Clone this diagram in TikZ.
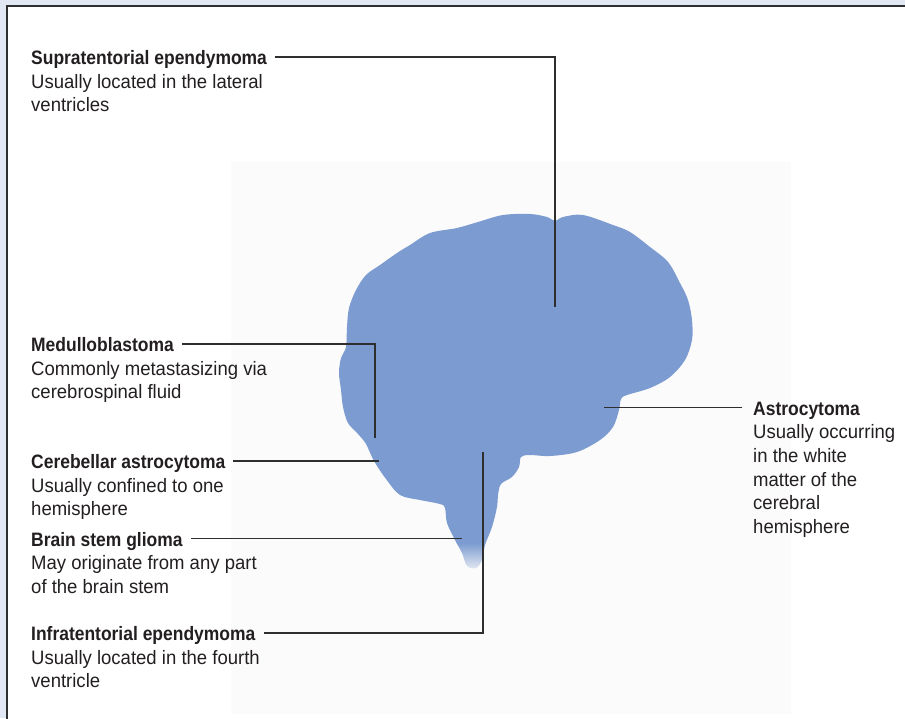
\documentclass[tikz,border=0pt]{standalone}
\usepackage{fontspec}
\setmainfont{Liberation Sans}[FakeStretch=0.955, BoldFeatures={FakeStretch=0.9}]
\usetikzlibrary{fadings}

\definecolor{pagebg}{HTML}{E2E8F3}
\definecolor{panelgrey}{HTML}{FBFBFB}
\definecolor{brainblue}{HTML}{7C9BD1}
\definecolor{ink}{HTML}{231F20}
\definecolor{rulecol}{HTML}{2E2E2E}

\begin{document}
\begin{tikzpicture}[x=1pt,y=-1pt,
  title/.style={font=\fontsize{19.4}{23.7}\selectfont\bfseries, text=ink,
    inner sep=0pt, anchor=base west},
  desc/.style={font=\fontsize{19.4}{23.7}\selectfont, text=ink,
    inner sep=0pt, align=left, anchor=base west},
  leader/.style={draw=rulecol, line width=1.2pt},
  frame/.style={draw=rulecol, line width=1.6pt}]

\useasboundingbox (0,0) rectangle (905,718);
\clip (0,0) rectangle (905,718);

% page and panel
\fill[pagebg] (0,0) rectangle (905,718);
\fill[white] (7,6) rectangle (930,740);
\draw[frame] (7,740) -- (7,6) -- (930,6);
\fill[panelgrey] (231,162) rectangle (791,714);

% brain silhouette
\fill[brainblue] plot[smooth cycle, tension=0.55] coordinates {
  (503,215) (530,214) (547,217) (555,221) (563,217) (583,215)
  (613,225) (630,232) (650,247) (668,262) (680,283) (688,300)
  (692,320) (692,340) (685,360) (670,377) (650,388) (627,395)
  (621,399) (619,410) (613,427) (600,440) (577,452) (550,456)
  (530,455) (521,457) (519,467) (512,477) (501,484) (498,495)
  (497,507) (492,527) (485,545) (482,560) (476,568) (467,566)
  (462,553) (455,540) (447,523) (445,508) (440,504) (420,500)
  (400,495) (386,479) (374,461) (366,444) (358,434) (348,423)
  (343,407) (341,390) (339,373) (341,358) (346,347) (347,327)
  (349,308) (356,290) (366,275) (380,265) (397,253) (410,245)
  (430,233) (457,228) (478,222)};

% stem fading out at the bottom
\fill[panelgrey, path fading=north] (430,543) rectangle (510,575);

% labels: titles, then descriptions placed by the baseline of their last line
\node[title] (t1) at (31,64.5) {Supratentorial ependymoma};
\node[desc] (d1) at ([yshift=-47.4pt]t1.base west) {Usually located in the lateral\\ventricles};

\node[title] (t2) at (31,351.5) {Medulloblastoma};
\node[desc] (d2) at ([yshift=-47.4pt]t2.base west) {Commonly metastasizing via\\cerebrospinal fluid};

\node[title] (t3) at (31,468.5) {Cerebellar astrocytoma};
\node[desc] (d3) at ([yshift=-47.4pt]t3.base west) {Usually confined to one\\hemisphere};

\node[title] (t4) at (31,546) {Brain stem glioma};
\node[desc] (d4) at ([yshift=-47.4pt]t4.base west) {May originate from any part\\of the brain stem};

\node[title] (t5) at (31,640.5) {Infratentorial ependymoma};
\node[desc] (d5) at ([yshift=-47.4pt]t5.base west) {Usually located in the fourth\\ventricle};

\node[title] (t6) at (753,415) {Astrocytoma};
\node[desc] (d6) at ([yshift=-118.5pt]t6.base west) {Usually occurring\\in the white\\matter of the\\cerebral\\hemisphere};

% leader end points
\coordinate (e1) at (555,307);
\coordinate (e2) at (375,438);
\coordinate (e3) at (379,461);
\coordinate (e4) at (462,539);
\coordinate (e5) at (483,452);
\coordinate (e6) at (604,407);

% leaders
\draw[leader] ([shift={(7.5pt,7.5pt)}]t1.base east) -| (e1);
\draw[leader] ([shift={(8pt,7.5pt)}]t2.base east) -| (e2);
\draw[leader] ([shift={(8pt,7.5pt)}]t3.base east) coordinate (s3) -- (s3 -| e3);
\draw[leader] ([shift={(8pt,7.5pt)}]t4.base east) coordinate (s4) -- (s4 -| e4);
\draw[leader] ([shift={(8pt,7.5pt)}]t5.base east) -| (e5);
\draw[leader] ([shift={(-11pt,7.5pt)}]t6.base west) coordinate (s6) -- (s6 -| e6);
\end{tikzpicture}
\end{document}
